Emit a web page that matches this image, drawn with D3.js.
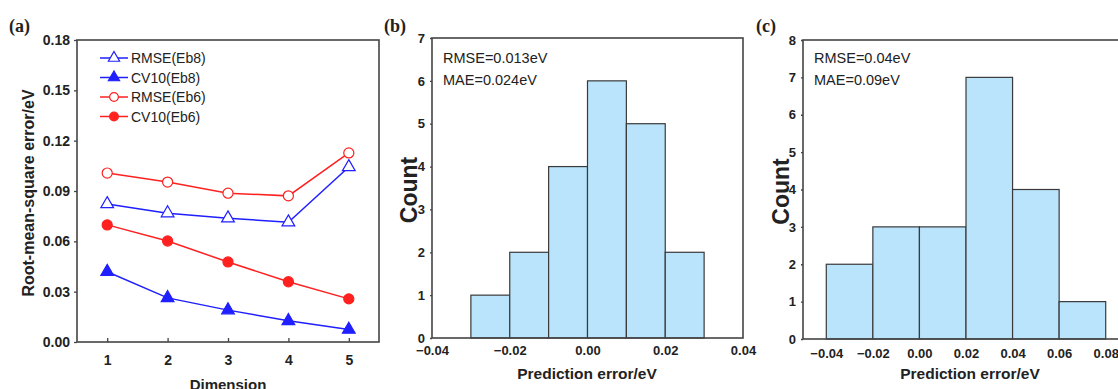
<!DOCTYPE html>
<html>
<head>
<meta charset="utf-8">
<script src="https://cdn.jsdelivr.net/npm/d3@7/dist/d3.min.js"></script>
<style>
  body { margin: 0; background: #fff; }
  svg { display: block; font-family: "Liberation Sans", Arial, sans-serif; }
</style>
</head>
<body>
<div id="container"></div>
<script>
// panel (a) data
let dims = [1, 2, 3, 4, 5];
let rmseEb8 = [0.0823, 0.0768, 0.0738, 0.0714, 0.1043];
let cv10Eb8 = [0.0419, 0.0263, 0.0190, 0.0126, 0.0074];
let rmseEb6 = [0.1007, 0.0953, 0.0887, 0.0871, 0.1127];
let cv10Eb6 = [0.0698, 0.0602, 0.0477, 0.0359, 0.0257];
let yTicksA = [0, 0.03, 0.06, 0.09, 0.12, 0.15, 0.18];

// panel (b) histogram
let binsB = [-0.03, -0.02, -0.01, 0.00, 0.01, 0.02];
let countsB = [1, 2, 4, 6, 5, 2];
let xTicksB = [-0.04, -0.02, 0, 0.02, 0.04];

// panel (c) histogram
let binsC = [-0.04, -0.02, 0.00, 0.02, 0.04, 0.06];
let countsC = [2, 3, 3, 7, 4, 1];
let xTicksC = [-0.04, -0.02, 0, 0.02, 0.04, 0.06, 0.08];

let w = 1118;
let h = 389;
let blue = "#1f1fff";
let red = "#ff2020";
let axisColor = "#444";

let viz = d3.select("#container")
  .append("svg")
  .attr("width", w)
  .attr("height", h);

// ---------- panel (a) ----------
let ax = { left: 77, right: 379, top: 40, bottom: 342 };
let xA = d3.scaleLinear().domain([0.5, 5.5]).range([ax.left, ax.right]);
let yA = d3.scaleLinear().domain([0, 0.18]).range([ax.bottom, ax.top]);

let gA = viz.append("g");
gA.append("rect")
  .attr("x", ax.left).attr("y", ax.top)
  .attr("width", ax.right - ax.left).attr("height", ax.bottom - ax.top)
  .attr("fill", "none").attr("stroke", axisColor).attr("stroke-width", 1.6);

let xAxisA = gA.append("g")
  .attr("transform", "translate(0," + ax.bottom + ")")
  .call(d3.axisBottom(xA).tickValues(dims).tickSize(-4).tickPadding(10).tickFormat(d3.format("d")));
let yAxisA = gA.append("g")
  .attr("transform", "translate(" + ax.left + ",0)")
  .call(d3.axisLeft(yA).tickValues(yTicksA).tickSize(3).tickPadding(4).tickFormat(d3.format(".2f")));
[xAxisA, yAxisA].forEach(function (g) {
  g.select(".domain").remove();
  g.selectAll("line").attr("stroke", axisColor).attr("stroke-width", 1.3);
  g.selectAll("text").attr("fill", "#222").style("font-size", "14px").style("font-weight", "bold");
});
xAxisA.selectAll("text").attr("dy", "0.9em");

gA.append("text")
  .attr("transform", "translate(34," + ((ax.top + ax.bottom) / 2 + 2) + ") rotate(-90)")
  .attr("text-anchor", "middle")
  .style("font-size", "16px").style("font-weight", "bold").attr("fill", "#222")
  .text("Root-mean-square error/eV");
gA.append("text")
  .attr("x", 228).attr("y", 390)
  .attr("text-anchor", "middle")
  .style("font-size", "15px").style("font-weight", "bold").attr("fill", "#222")
  .text("Dimension");
gA.append("text")
  .attr("x", 9).attr("y", 32)
  .style("font-family", "'Liberation Serif', 'Times New Roman', serif")
  .style("font-size", "18px").style("font-weight", "bold").attr("fill", "#222")
  .text("(a)");

let series = [
  { name: "RMSE(Eb8)", values: rmseEb8, color: blue, shape: d3.symbolTriangle, filled: false },
  { name: "CV10(Eb8)", values: cv10Eb8, color: blue, shape: d3.symbolTriangle, filled: true },
  { name: "RMSE(Eb6)", values: rmseEb6, color: red, shape: d3.symbolCircle, filled: false },
  { name: "CV10(Eb6)", values: cv10Eb6, color: red, shape: d3.symbolCircle, filled: true }
];

let line = d3.line()
  .x(function (d, i) { return xA(dims[i]); })
  .y(function (d) { return yA(d); });

series.forEach(function (s) {
  gA.append("path")
    .attr("d", line(s.values))
    .attr("fill", "none")
    .attr("stroke", s.color)
    .attr("stroke-width", 1.5);
  let sym = d3.symbol().type(s.shape).size(s.shape === d3.symbolCircle ? 80 : 70);
  gA.selectAll(null).data(s.values).enter()
    .append("path")
    .attr("d", sym)
    .attr("transform", function (d, i) { return "translate(" + xA(dims[i]) + "," + yA(d) + ")"; })
    .attr("fill", s.filled ? s.color : "#fff")
    .attr("stroke", s.color)
    .attr("stroke-width", 1.2);
});

// legend
let legend = gA.append("g");
series.forEach(function (s, i) {
  let ly = 58 + i * 19.5;
  legend.append("line")
    .attr("x1", 100).attr("x2", 128).attr("y1", ly).attr("y2", ly)
    .attr("stroke", s.color).attr("stroke-width", 1.5);
  legend.append("path")
    .attr("d", d3.symbol().type(s.shape).size(s.shape === d3.symbolCircle ? 60 : 55))
    .attr("transform", "translate(114," + ly + ")")
    .attr("fill", s.filled ? s.color : "#fff")
    .attr("stroke", s.color).attr("stroke-width", 1.2);
  legend.append("text")
    .attr("x", 131).attr("y", ly + 5)
    .style("font-size", "14px").attr("fill", "#222")
    .text(s.name);
});

// ---------- histograms ----------
function drawHist(opt) {
  let g = viz.append("g");
  let x = d3.scaleLinear().domain(opt.xDomain).range([opt.left, opt.right]);
  let y = d3.scaleLinear().domain([0, opt.yMax]).range([opt.bottom, opt.top]);

  g.selectAll(".bar").data(opt.counts).enter()
    .append("rect")
    .attr("class", "bar")
    .attr("x", function (d, i) { return x(opt.bins[i]); })
    .attr("width", function (d, i) { return x(opt.bins[i] + opt.binWidth) - x(opt.bins[i]); })
    .attr("y", function (d) { return y(d); })
    .attr("height", function (d) { return y(0) - y(d); })
    .attr("fill", "#b9e4fb")
    .attr("stroke", "#3a3a3a")
    .attr("stroke-width", 1.2);

  g.append("rect")
    .attr("x", opt.left).attr("y", opt.top)
    .attr("width", opt.right - opt.left).attr("height", opt.bottom - opt.top)
    .attr("fill", "none").attr("stroke", axisColor).attr("stroke-width", 1.6);

  let xAxis = g.append("g")
    .attr("transform", "translate(0," + opt.bottom + ")")
    .call(d3.axisBottom(x).tickValues(opt.xTicks).tickSize(0).tickPadding(opt.xPad).tickFormat(d3.format(".2f")));
  let yAxis = g.append("g")
    .attr("transform", "translate(" + opt.left + ",0)")
    .call(d3.axisLeft(y).ticks(opt.yMax).tickSize(2).tickPadding(opt.yPad).tickFormat(d3.format("d")));
  [xAxis, yAxis].forEach(function (a) {
    a.select(".domain").remove();
    a.selectAll("line").attr("stroke", axisColor).attr("stroke-width", 1.3);
    a.selectAll("text").attr("fill", "#222").style("font-size", "13px").style("font-weight", "bold");
  });
  xAxis.selectAll("text").attr("dy", "0.9em");

  g.append("text")
    .attr("transform", "translate(" + opt.countX + "," + ((opt.top + opt.bottom) / 2 + 2) + ") rotate(-90)")
    .attr("text-anchor", "middle")
    .style("font-size", "23px").style("font-weight", "bold").attr("fill", "#222")
    .text("Count");
  g.append("text")
    .attr("x", opt.titleX).attr("y", 379)
    .attr("text-anchor", "middle")
    .style("font-size", "15.5px").style("font-weight", "bold").attr("fill", "#222")
    .text("Prediction error/eV");
  g.append("text")
    .attr("x", opt.labelX).attr("y", 32)
    .style("font-family", "'Liberation Serif', 'Times New Roman', serif")
    .style("font-size", "18px").style("font-weight", "bold").attr("fill", "#222")
    .text(opt.label);
  opt.notes.forEach(function (t, i) {
    g.append("text")
      .attr("x", opt.left + 11).attr("y", 63 + i * 21.5)
      .style("font-size", "14.5px").attr("fill", "#222")
      .text(t);
  });
}

drawHist({
  left: 432, right: 743, top: 38, bottom: 338,
  xDomain: [-0.04, 0.04], yMax: 7,
  bins: binsB, counts: countsB, binWidth: 0.01, xTicks: xTicksB,
  xPad: 5, yPad: 5,
  countX: 417, titleX: 587, labelX: 384, label: "(b)",
  notes: ["RMSE=0.013eV", "MAE=0.024eV"]
});

drawHist({
  left: 803, right: 1129, top: 40, bottom: 339,
  xDomain: [-0.05, 0.09], yMax: 8,
  bins: binsC, counts: countsC, binWidth: 0.02, xTicks: xTicksC,
  xPad: 7, yPad: 5,
  countX: 789, titleX: 970, labelX: 756, label: "(c)",
  notes: ["RMSE=0.04eV", "MAE=0.09eV"]
});
</script>
</body>
</html>
